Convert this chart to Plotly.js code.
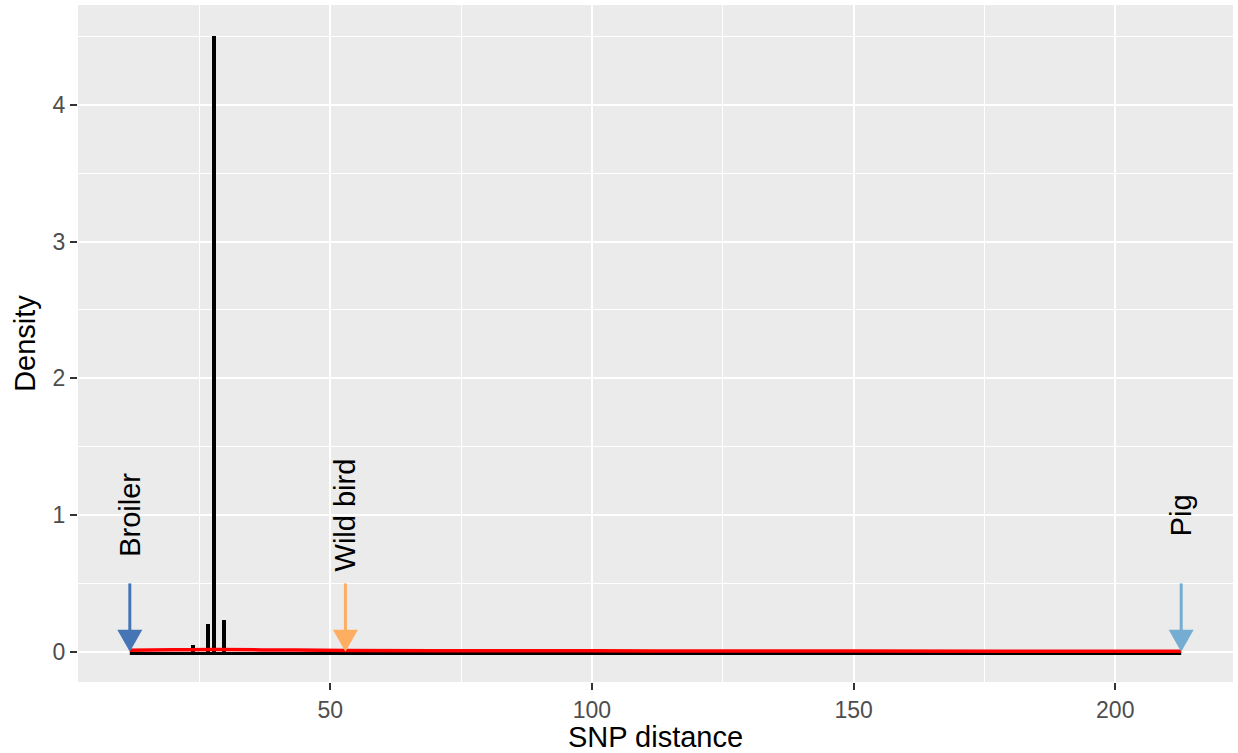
<!DOCTYPE html>
<html>
<head>
<meta charset="utf-8">
<script src="https://cdn.plot.ly/plotly-3.0.1.min.js"></script>
<style>html,body{margin:0;padding:0;background:#fff;}#chart{width:1238px;height:753px;}</style>
</head>
<body>
<div id="chart"></div>
<script>
// Histogram bars (SNP distance, density)
const histX = [23.7, 26.7, 27.7, 29.7];
const histY = [0.05, 0.2, 4.5, 0.23];
// Zero-height histogram outline span
const baselineX = [11.7, 212.6];
const baselineY = [-0.013, -0.013];
// Density curve (red)
const densX = [11.7, 20, 28, 40, 53, 75, 100, 125, 150, 180, 212.6];
const densY = [0.012, 0.014, 0.016, 0.013, 0.010, 0.008, 0.007, 0.006, 0.005, 0.004, 0.003];
// Source markers
const sources = ["Broiler", "Wild bird", "Pig"];
const sourceX = [11.7, 52.9, 212.6];
const sourceColors = ["#4575B4", "#FDAE61", "#74ADD1"];
const arrowTop = 0.5;
const labelY = 1.0;
const xTicks = [50, 100, 150, 200];
const yTicks = [0, 1, 2, 3, 4];

const traces = [
  {type: "bar", x: histX, y: histY, width: 0.76, marker: {color: "#000000", line: {width: 0}}, hoverinfo: "x+y"},
  {type: "scatter", mode: "lines", x: baselineX, y: baselineY, line: {color: "#000000", width: 3}, hoverinfo: "skip"},
  {type: "scatter", mode: "lines", x: densX, y: densY, line: {color: "#FF0000", width: 3.5, shape: "spline"}, hoverinfo: "skip"}
];

const shapes = [];
const annotations = [];
sources.forEach((s, i) => {
  shapes.push({type: "line", xref: "x", yref: "y", x0: sourceX[i], x1: sourceX[i], y0: 0.08, y1: arrowTop,
    line: {color: sourceColors[i], width: 3}, layer: "above"});
  shapes.push({type: "path", xref: "x", yref: "y", xsizemode: "pixel", ysizemode: "pixel",
    xanchor: sourceX[i], yanchor: 0, path: "M -12.5 22 L 12.5 22 L 0 0 Z",
    fillcolor: sourceColors[i], line: {width: 0}, layer: "above"});
  annotations.push({x: sourceX[i], y: labelY, xref: "x", yref: "y", text: s, showarrow: false,
    textangle: -90, xanchor: "center", yanchor: "middle",
    font: {family: "Liberation Sans, Arial, sans-serif", size: 29, color: "#000000"}});
});

const layout = {
  width: 1238, height: 753,
  margin: {l: 78, r: 5, t: 5, b: 71},
  paper_bgcolor: "#FFFFFF",
  plot_bgcolor: "#EBEBEB",
  showlegend: false,
  bargap: 0,
  font: {family: "Liberation Sans, Arial, sans-serif"},
  xaxis: {
    range: [1.8, 222.5], tickvals: xTicks, ticktext: xTicks.map(String),
    showgrid: true, gridcolor: "#FFFFFF", gridwidth: 2,
    minor: {dtick: 25, tick0: 0, showgrid: true, gridcolor: "#FFFFFF", gridwidth: 1},
    zeroline: false, showline: false,
    ticks: "outside", ticklen: 7, tickwidth: 2, tickcolor: "#333333",
    tickfont: {size: 23, color: "#4D4D4D"},
    title: {text: "SNP distance", font: {size: 29, color: "#000000"}, standoff: 6},
    automargin: false
  },
  yaxis: {
    range: [-0.221, 4.73], tickvals: yTicks, ticktext: yTicks.map(String),
    showgrid: true, gridcolor: "#FFFFFF", gridwidth: 2,
    minor: {dtick: 0.5, tick0: 0, showgrid: true, gridcolor: "#FFFFFF", gridwidth: 1},
    zeroline: false, showline: false,
    ticks: "outside", ticklen: 7, tickwidth: 2, tickcolor: "#333333",
    tickfont: {size: 23, color: "#4D4D4D"},
    title: {text: "Density", font: {size: 29, color: "#000000"}, standoff: 8},
    automargin: false
  },
  shapes: shapes,
  annotations: annotations
};

Plotly.newPlot("chart", traces, layout, {displayModeBar: false, staticPlot: true});
</script>
</body>
</html>
